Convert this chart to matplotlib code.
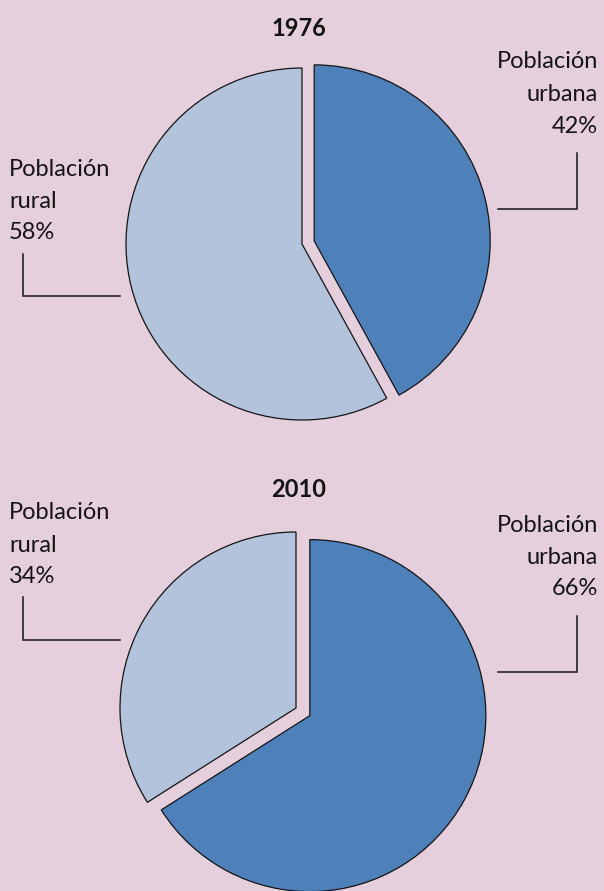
import matplotlib.pyplot as plt

years = ['1976', '2010']
urban_pct = [42, 66]
rural_pct = [58, 34]
urban_label = ['Población', 'urbana']
rural_label = ['Población', 'rural']

BG = '#e6cfdd'
DARK = '#4e80ba'
LIGHT = '#b3c3db'
INK = '#141414'

W, H = 604, 891
plt.rcParams['font.family'] = ['Lato', 'DejaVu Sans']

fig = plt.figure(figsize=(W / 100, H / 100), dpi=100, facecolor=BG)
ax = fig.add_axes([0, 0, 1, 1])
ax.set_facecolor(BG)


def Y(y):
    # pixel row (from top) -> data y
    return H - y


# layout per panel (pixels, measured from top-left); explode is in pixels here
panels = [
    dict(center=(302, 244), explode=12.6, title=(299, 36),
         right_base=[68, 101, 133], left_base=[176, 208, 239],
         right_line=[(498, 209), (577, 209), (577, 153)],
         left_line=[(23, 254), (23, 296), (120, 296)]),
    dict(center=(296, 708), explode=15.8, title=(299, 497),
         right_base=[532, 564, 595], left_base=[519, 552, 583],
         right_line=[(498, 672), (577, 672), (577, 616)],
         left_line=[(23, 597), (23, 640), (120, 640)]),
]
R = 176
FS = 17

for i, p in enumerate(panels):
    cx, cy = p['center']
    ax.pie([urban_pct[i], rural_pct[i]], colors=[DARK, LIGHT],
           startangle=90, counterclock=False,
           explode=[p['explode'], 0], center=(cx, Y(cy)), radius=R,
           wedgeprops=dict(edgecolor=INK, linewidth=0.9))

    tx, ty = p['title']
    ax.text(tx, Y(ty), years[i], ha='center', va='baseline',
            fontsize=FS, fontweight='bold', color=INK)

    right_lines = urban_label + [f'{urban_pct[i]}%']
    for line, b in zip(right_lines, p['right_base']):
        ax.text(598, Y(b), line, ha='right', va='baseline', fontsize=FS, color=INK)
    left_lines = rural_label + [f'{rural_pct[i]}%']
    for line, b in zip(left_lines, p['left_base']):
        ax.text(9, Y(b), line, ha='left', va='baseline', fontsize=FS, color=INK)

    for pts in (p['right_line'], p['left_line']):
        xs = [q[0] for q in pts]
        ys = [Y(q[1]) for q in pts]
        ax.plot(xs, ys, color=INK, linewidth=1.1, solid_joinstyle='miter')

ax.set_xlim(0, W)
ax.set_ylim(0, H)
ax.set_aspect('auto')
ax.axis('off')

fig.savefig('out.png', dpi=100, facecolor=BG)
